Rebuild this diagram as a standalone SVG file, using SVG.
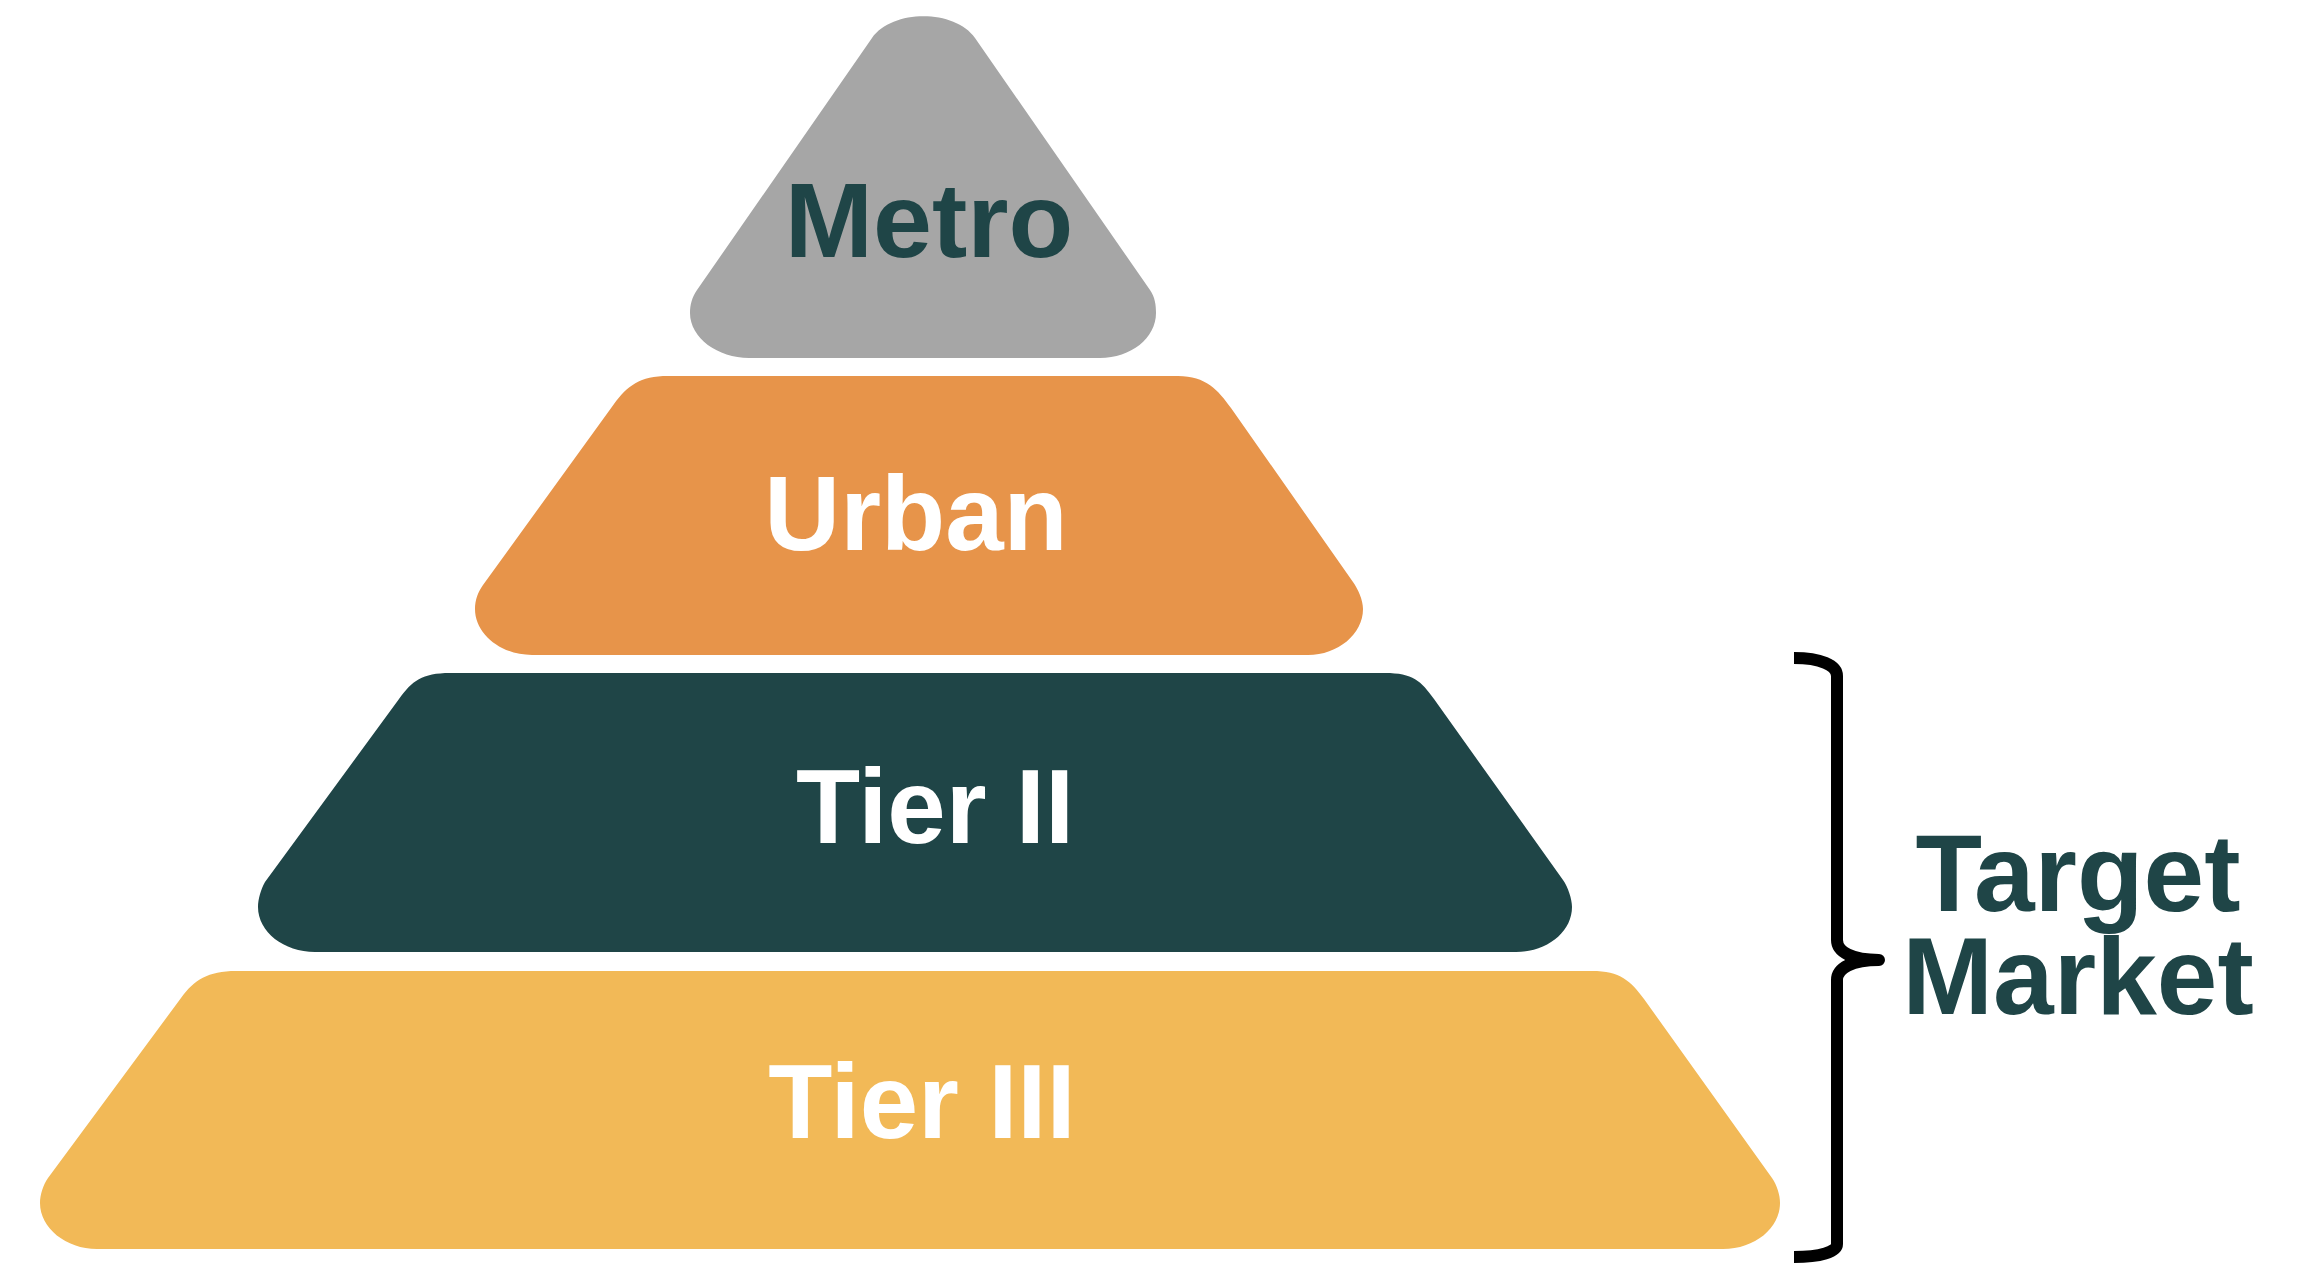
<svg xmlns="http://www.w3.org/2000/svg" width="2311" height="1263" viewBox="0 0 2311 1263">
<style>
.lbl{font-family:"Liberation Sans",Arial,sans-serif;font-weight:bold;font-size:105px;text-anchor:middle}
.w{fill:#FFFFFF}
.d{fill:#1F4547}
.brace{fill:none;stroke:#000000;stroke-width:12;stroke-linejoin:round}
</style>
<rect width="2311" height="1263" fill="#FFFFFF"/>
<g id="metro">
<path fill="#A6A6A6" d="M 872,38 C 892,9 955,9 975,38 L 1150,290 C 1155,297 1156,305 1156,313 C 1156,338 1131,358 1100,358 L 749,358 C 718,358 690,338 690,313 C 690,305 692,297 697,290 Z"/>
<text class="lbl d" x="929" y="257" style="font-size:106px">Metro</text>
</g>
<g id="urban">
<path fill="#E7944A" d="M 668,376 L 1178,376 C 1206,376 1218,390 1231,408 L 1353,582 C 1358,589 1363,600 1363,609 C 1363,634 1338,655 1308,655 L 532,655 C 501,655 475,634 475,609 C 475,600 478,592 483,585 L 614,404 C 627,386 640,376 668,376 Z"/>
<text class="lbl w" x="916" y="550">Urban</text>
</g>
<g id="tier2">
<path fill="#1F4547" d="M 450,673 L 1385,673 C 1413,673 1421,681 1434,699 L 1563,880 C 1568,887 1572,899 1572,907 C 1572,932 1547,952 1516,952 L 315,952 C 284,952 258,932 258,907 C 258,899 261,889 265,882 L 399,699 C 412,681 422,673 450,673 Z"/>
<text class="lbl w" x="935" y="843">Tier II</text>
</g>
<g id="tier3">
<path fill="#F2B957" d="M 236,971 L 1592,971 C 1620,971 1631,981 1644,999 L 1772,1178 C 1777,1185 1780,1195 1780,1203 C 1780,1228 1755,1249 1723,1249 L 97,1249 C 66,1249 40,1228 40,1203 C 40,1195 43,1185 48,1178 L 181,998 C 194,980 208,971 236,971 Z"/>
<text class="lbl w" x="922" y="1138">Tier III</text>
</g>
<g id="connectors">
<path class="brace" d="M 1794,658 C 1820,658 1837,665 1837,676 L 1837,940 C 1837,952 1852,960 1879,960 C 1852,960 1837,968 1837,980 L 1837,1244 C 1837,1252 1820,1257 1794,1257"/>
</g>
<g id="target-market">
<text class="lbl d" style="font-size:109px" x="2078" y="911">Target</text>
<text class="lbl d" style="font-size:109px" x="2078" y="1014">Market</text>
</g>
</svg>
